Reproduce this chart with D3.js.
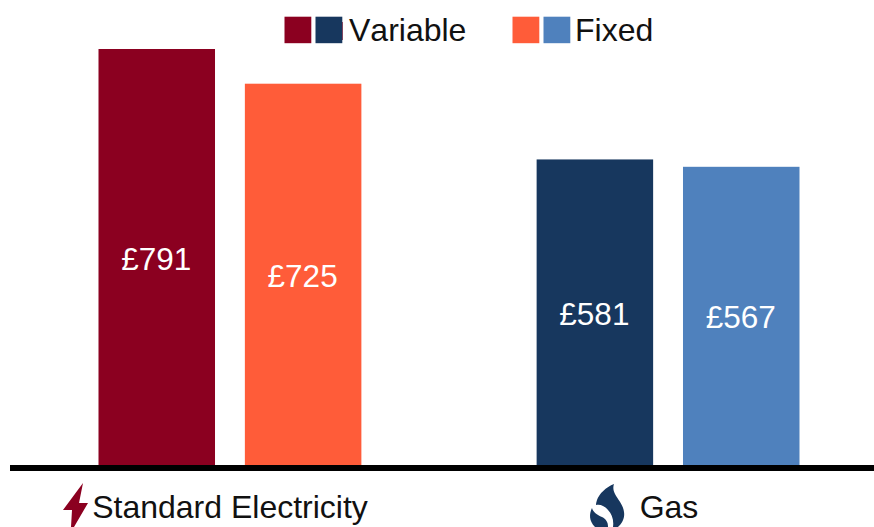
<!DOCTYPE html>
<html><head><meta charset="utf-8">
<script src="https://cdn.jsdelivr.net/npm/d3@7"></script>
<style>html,body{margin:0;padding:0;background:#fff}svg{display:block}text{font-family:"Liberation Sans",Arial,sans-serif;font-kerning:none}</style>
</head><body><svg id="c" width="874" height="527"></svg>
<script>
const categories = ["Standard Electricity", "Gas"];
const tariffs = ["Variable", "Fixed"];
const variableValues = [791, 581];
const fixedValues = [725, 567];
const variableColors = ["#8b0020", "#17375e"];
const fixedColors = ["#ff5c39", "#4f81bd"];

const svg = d3.select("#c");
const x0 = d3.scaleBand().domain(categories).range([98.5, 799.5]).paddingInner(0.4);
const x1 = d3.scaleBand().domain(tariffs).range([0, x0.bandwidth()]).paddingInner(0.204);
const y = d3.scaleLinear().domain([0, 791]).range([465, 49]);

const rows = [];
categories.forEach((c, i) => {
  rows.push({c, t: "Variable", v: variableValues[i], col: variableColors[i]});
  rows.push({c, t: "Fixed", v: fixedValues[i], col: fixedColors[i]});
});
const g = svg.append("g");
g.selectAll("rect").data(rows).join("rect")
  .attr("x", d => x0(d.c) + x1(d.t)).attr("width", x1.bandwidth())
  .attr("y", d => y(d.v)).attr("height", d => y(0) - y(d.v)).attr("fill", d => d.col);
g.selectAll("text").data(rows).join("text")
  .attr("x", d => x0(d.c) + x1(d.t) + x1.bandwidth() / 2 - 0.5)
  .attr("y", d => (y(d.v) + y(0)) / 2 + 1.5)
  .attr("text-anchor", "middle").attr("dominant-baseline", "central")
  .attr("fill", "#fff").attr("font-size", 31.5)
  .text(d => "£" + d.v);

// axis
svg.append("rect").attr("x", 10).attr("y", 465).attr("width", 864).attr("height", 6).attr("fill", "#000");

// category labels
const labelX = {"Standard Electricity": 230, "Gas": 669};
svg.selectAll("text.cat").data(categories).join("text").attr("class", "cat")
  .attr("x", d => labelX[d]).attr("y", 518).attr("text-anchor", "middle")
  .attr("font-size", 32).attr("fill", "#111").text(d => d);

// icons
svg.append("path").attr("fill", variableColors[0])
  .attr("d", "M83,483 L63,510 L72,510 L71,527 L74,527 L88,503 L79,503 Z");
svg.append("path").attr("fill", variableColors[1])
  .attr("d", "M614,484 C606,487 599,494 597,500 C596,503 596,504 596,505 C600,504 605,506 608,510 C612,514 614,520 613,527 L618,527 C622,524 625,518 624,512 C623,504 618,500 615,494 C613,490 613,487 614,484 Z");
svg.append("path").attr("fill", variableColors[1])
  .attr("d", "M592,508 C589,514 589,521 595,527 L608,527 C608,522 606,519 602,517 C597,515 593,512 592,508 Z");

// legend
const legend = [
  {label: tariffs[0], cols: variableColors, x: 284.5, tx: 349},
  {label: tariffs[1], cols: fixedColors, x: 512.5, tx: 575}
];
svg.append("rect").attr("x", 340).attr("y", 22).attr("width", 2.7).attr("height", 18).attr("fill", variableColors[0]);
legend.forEach(l => {
  l.cols.forEach((c, i) => {
    svg.append("rect").attr("x", l.x + i * 31).attr("y", 16.7).attr("width", 26.8).attr("height", 26.5).attr("fill", c);
  });
  svg.append("text").attr("x", l.tx).attr("y", 41).attr("font-size", 32).attr("fill", "#111").text(l.label);
});
</script></body></html>
